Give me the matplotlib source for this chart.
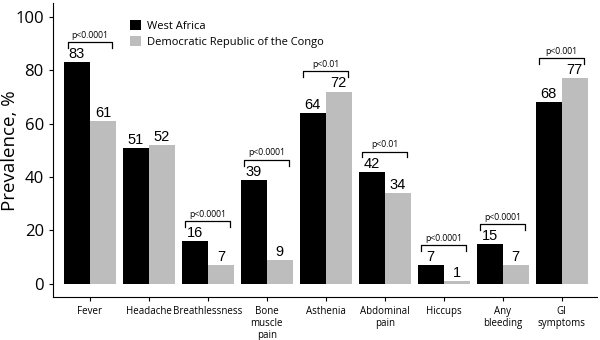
import numpy as np
import matplotlib
matplotlib.use('Agg')
import matplotlib.pyplot as plt

symptoms = ['Fever', 'Headache', 'Breathlessness', 'Bone\nmuscle\npain', 'Asthenia',
            'Abdominal\npain', 'Hiccups', 'Any\nbleeding', 'GI\nsymptoms']
west_africa = [83, 51, 16, 39, 64, 42, 7, 15, 68]
drc = [61, 52, 7, 9, 72, 34, 1, 7, 77]
p_values = ['p<0.0001', None, 'p<0.0001', 'p<0.0001', 'p<0.01', 'p<0.01',
            'p<0.0001', 'p<0.0001', 'p<0.001']

x = np.arange(len(symptoms))
w = 0.44

fig = plt.figure(figsize=(6, 3.4), dpi=100)
ax = fig.add_axes([0.088, 0.126, 0.907, 0.864])

ax.bar(x - w/2, west_africa, w, color='black', label='West Africa')
ax.bar(x + w/2, drc, w, color='#bdbdbd', label='Democratic Republic of the Congo')

for i in range(len(x)):
    ax.text(x[i] - w/2, west_africa[i] + 0.4, str(west_africa[i]), ha='center', va='bottom',
            fontsize=10.5, family='Liberation Sans')
    ax.text(x[i] + w/2, drc[i] + 0.4, str(drc[i]), ha='center', va='bottom',
            fontsize=10.5, family='Liberation Sans')
    if p_values[i] is not None:
        top = max(west_africa[i], drc[i]) + 7.5
        ax.plot([x[i] - 0.38, x[i] - 0.38, x[i] + 0.38, x[i] + 0.38],
                [top - 2.2, top, top, top - 2.2], color='black', lw=0.9)
        ax.text(x[i], top + 0.8, p_values[i], ha='center', va='bottom', fontsize=6.2,
                family='Open Sans')

ax.set_xlim(-0.63, 8.6)
ax.set_ylim(-5, 105)
ax.set_yticks([0, 20, 40, 60, 80, 100])
ax.set_xticks(x)
ax.set_xticklabels(symptoms, fontsize=7, family='Open Sans', linespacing=1.1)
ax.tick_params(axis='y', labelsize=12, length=3)
ax.tick_params(axis='x', length=3)
for lab in ax.get_yticklabels():
    lab.set_family('Open Sans')
ax.set_ylabel('Prevalence, %', fontsize=13.5, family='Open Sans')
ax.yaxis.set_label_coords(-0.062, 0.5)
ax.spines['top'].set_visible(False)
ax.spines['right'].set_visible(False)

ax.legend(loc='upper left', bbox_to_anchor=(0.13, 0.965), frameon=False,
          prop={'family': 'Open Sans', 'size': 8}, handlelength=1.0, handleheight=1.0,
          handletextpad=0.5, labelspacing=0.35, borderaxespad=0.2)

fig.savefig('out.png', dpi=100)
